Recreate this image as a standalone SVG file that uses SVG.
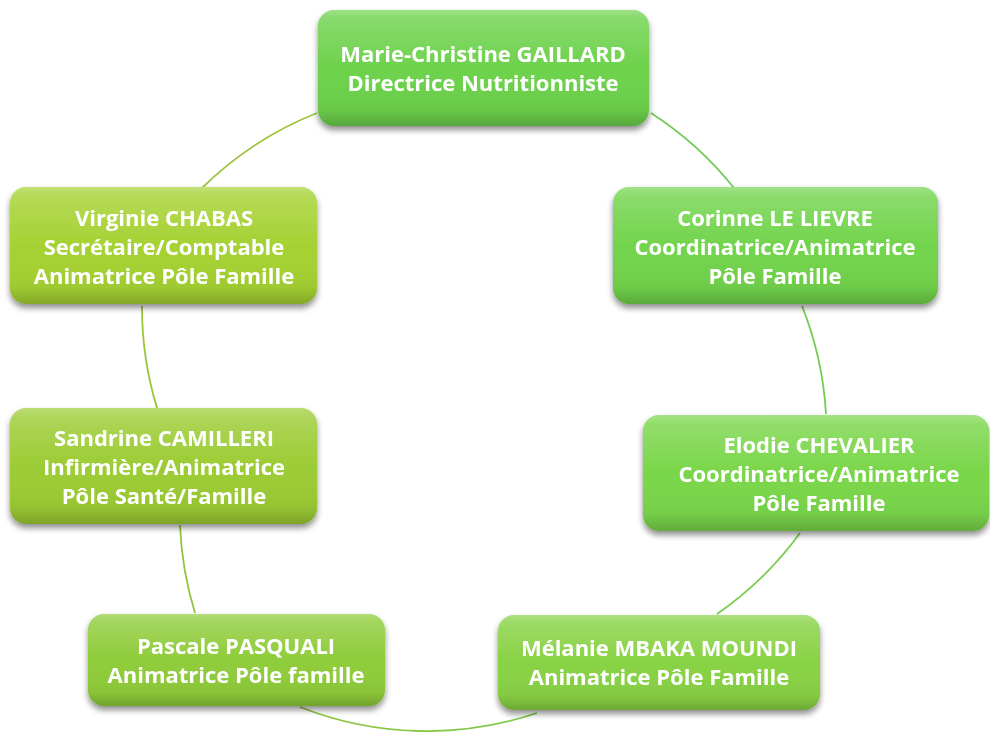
<svg xmlns="http://www.w3.org/2000/svg" width="990" height="732" viewBox="0 0 990 732">
<defs>
<style>
.t{font-family:"Open Sans","Noto Sans","Liberation Sans",sans-serif;font-weight:700;font-size:22px;fill:#ffffff;text-anchor:middle}
.c{fill:none;stroke-width:1.8}
.gl{fill:url(#gloss)}
</style>
<linearGradient id="gloss" x1="0" y1="0" x2="0" y2="1">
<stop offset="0" stop-color="#ffffff" stop-opacity="0.32"/>
<stop offset="0.08" stop-color="#ffffff" stop-opacity="0.18"/>
<stop offset="0.5" stop-color="#ffffff" stop-opacity="0"/>
<stop offset="0.85" stop-color="#000000" stop-opacity="0.04"/>
<stop offset="1" stop-color="#000000" stop-opacity="0.2"/>
</linearGradient>
<linearGradient id="bot" x1="0" y1="0" x2="1" y2="0">
<stop offset="0" stop-color="#92c43c"/>
<stop offset="1" stop-color="#7ccc50"/>
</linearGradient>
<filter id="sh" x="-10%" y="-10%" width="120%" height="130%">
<feGaussianBlur in="SourceAlpha" stdDeviation="3"/>
<feOffset dy="4" result="b"/>
<feComponentTransfer><feFuncA type="linear" slope="0.45"/></feComponentTransfer>
<feMerge><feMergeNode/><feMergeNode in="SourceGraphic"/></feMerge>
</filter>
</defs>
<rect width="990" height="732" fill="#ffffff"/>
<g id="connectors">
<path class="c" stroke="#9cc43c" d="M202,188 A345,345 0 0 1 317,113"/>
<path class="c" stroke="#70cc58" d="M651,113 A345,345 0 0 1 734,188"/>
<path class="c" stroke="#72cc50" d="M802,306 A345,345 0 0 1 826,414"/>
<path class="c" stroke="#7ccc50" d="M800,533 A345,345 0 0 1 717,614"/>
<path class="c" stroke="url(#bot)" d="M537,713 A345,345 0 0 1 300,707"/>
<path class="c" stroke="#92c440" d="M195,613 A345,345 0 0 1 180,525"/>
<path class="c" stroke="#9cc43c" d="M157,408 A345,345 0 0 1 142,306"/>
</g>
<g id="n1" filter="url(#sh)">
<rect x="318" y="10" width="331" height="116" rx="16" fill="#6dd24c"/>
<rect x="318" y="10" width="331" height="116" rx="16" class="gl"/>
<text class="t" x="483" y="62">Marie-Christine GAILLARD</text>
<text class="t" x="483" y="91">Directrice Nutritionniste</text>
</g>
<g id="n2" filter="url(#sh)">
<rect x="613" y="187" width="325" height="117" rx="16" fill="#72d44c"/>
<rect x="613" y="187" width="325" height="117" rx="16" class="gl"/>
<text class="t" x="775" y="226">Corinne LE LIEVRE</text>
<text class="t" x="775" y="255">Coordinatrice/Animatrice</text>
<text class="t" x="775" y="284">Pôle Famille</text>
</g>
<g id="n3" filter="url(#sh)">
<rect x="643" y="415" width="346" height="116" rx="16" fill="#7ad64a"/>
<rect x="643" y="415" width="346" height="116" rx="16" class="gl"/>
<text class="t" x="819" y="453">Elodie CHEVALIER</text>
<text class="t" x="819" y="482">Coordinatrice/Animatrice</text>
<text class="t" x="819" y="511">Pôle Famille</text>
</g>
<g id="n4" filter="url(#sh)">
<rect x="498" y="615" width="322" height="95" rx="16" fill="#88d244"/>
<rect x="498" y="615" width="322" height="95" rx="16" class="gl"/>
<text class="t" x="659" y="656">Mélanie MBAKA MOUNDI</text>
<text class="t" x="659" y="685">Animatrice Pôle Famille</text>
</g>
<g id="n5" filter="url(#sh)">
<rect x="88" y="614" width="297" height="92" rx="16" fill="#8fcc3a"/>
<rect x="88" y="614" width="297" height="92" rx="16" class="gl"/>
<text class="t" x="236" y="654">Pascale PASQUALI</text>
<text class="t" x="236" y="683">Animatrice Pôle famille</text>
</g>
<g id="n6" filter="url(#sh)">
<rect x="10" y="408" width="307" height="116" rx="16" fill="#9ccc34"/>
<rect x="10" y="408" width="307" height="116" rx="16" class="gl"/>
<text class="t" x="164" y="446">Sandrine CAMILLERI</text>
<text class="t" x="164" y="475">Infirmière/Animatrice</text>
<text class="t" x="164" y="504">Pôle Santé/Famille</text>
</g>
<g id="n7" filter="url(#sh)">
<rect x="10" y="187" width="307" height="117" rx="16" fill="#a5d232"/>
<rect x="10" y="187" width="307" height="117" rx="16" class="gl"/>
<text class="t" x="164" y="226">Virginie CHABAS</text>
<text class="t" x="164" y="255">Secrétaire/Comptable</text>
<text class="t" x="164" y="284">Animatrice Pôle Famille</text>
</g>
</svg>
